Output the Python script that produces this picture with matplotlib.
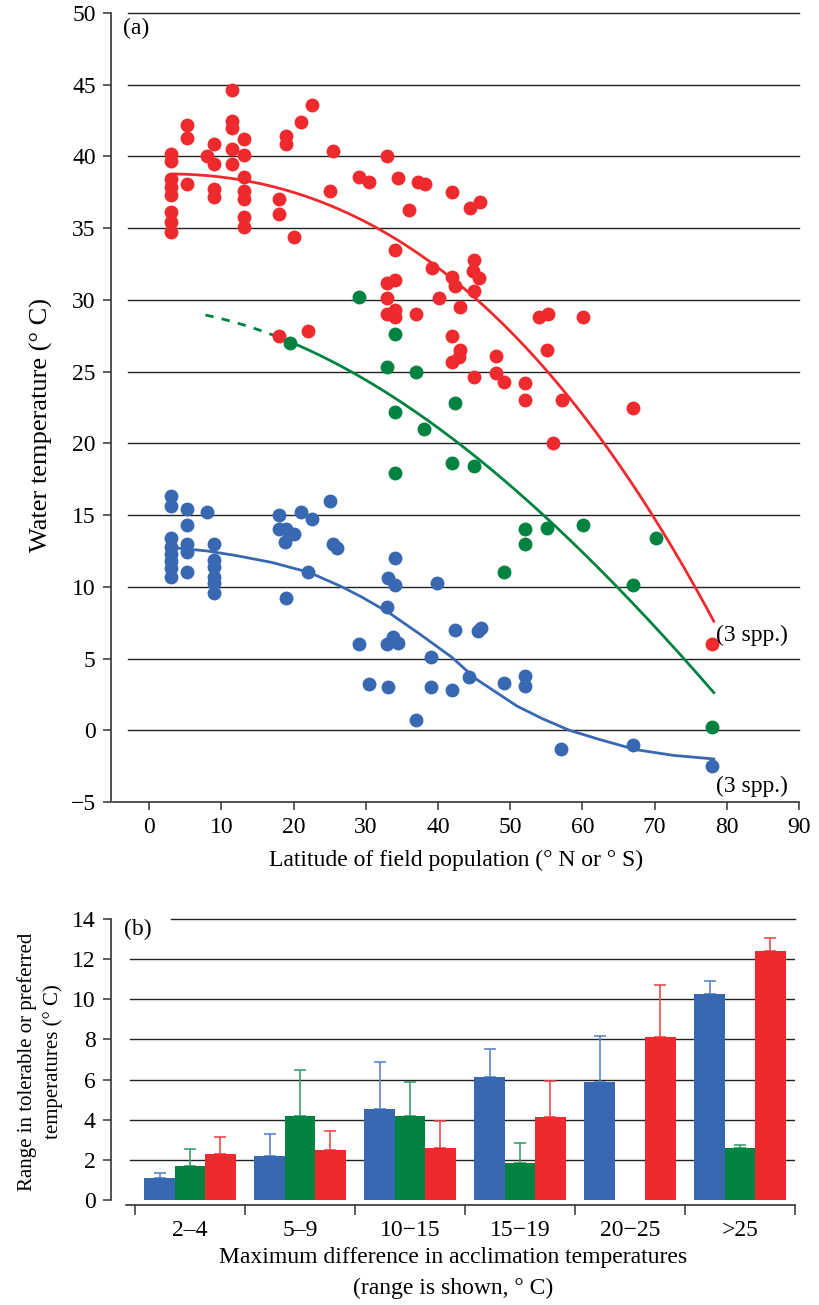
import numpy as np
import matplotlib
matplotlib.use("Agg")
import matplotlib.pyplot as plt

plt.rcParams["font.family"] = ["Liberation Serif", "DejaVu Serif"]
plt.rcParams["font.size"] = 17

RED = "#ee2a2f"
GREEN = "#008241"
BLUE = "#3868b2"
RED_E = "#f04a4e"
GREEN_E = "#3b9e6a"
BLUE_E = "#5d86c5"
AX = "#333333"

# ---- panel (a) data: latitude vs water temperature ----
red_lat = [3, 3, 3, 3, 3, 3, 3, 3, 5.3, 5.3, 5.3, 8, 9, 9, 9, 9,
           11.5, 11.5, 11.5, 11.5, 11.5, 13.2, 13.2, 13.2, 13.2, 13.2, 13.2, 13.2,
           18, 18, 19, 19, 20, 21, 22.5, 25, 25.5, 29,
           33, 30.5, 34.5, 37.2, 38.2, 36, 42, 44.4, 45.8, 34, 39.2, 45, 44.8,
           45.7, 42, 42.3, 45, 33, 34, 33, 40.1, 43, 33, 34, 34, 37, 54, 55.2,
           60.1, 42, 43, 42.9, 41.9, 48, 55.1, 45, 48, 49.2, 52, 52, 57.2,
           18, 22, 56, 67, 78]
red_temp = [40.2, 39.7, 38.4, 37.9, 37.3, 36.1, 35.4, 34.7, 42.2, 41.3, 38.1, 40.0,
            40.9, 39.5, 37.7, 37.2, 44.6, 42.5, 42.0, 40.5, 39.5,
            41.2, 40.1, 38.6, 37.6, 37.0, 35.8, 35.1,
            37.0, 36.0, 41.4, 40.9, 34.4, 42.4, 43.6, 37.6, 40.4, 38.6,
            40.0, 38.2, 38.5, 38.2, 38.1, 36.3, 37.5, 36.4, 36.8, 33.5, 32.2, 32.8, 32.0,
            31.5, 31.6, 31.0, 30.6, 31.2, 31.4, 30.1, 30.1, 29.5, 29.0, 29.3, 28.8, 29.0, 28.8, 29.0,
            28.8, 27.5, 26.5, 26.0, 25.7, 26.1, 26.5, 24.6, 24.9, 24.3, 24.2, 23.0, 23.0,
            27.5, 27.8, 20.0, 22.5, 6.0]

green_lat = [29, 19.5, 34, 33, 37, 34, 42.4, 38, 34, 42, 45, 52, 52, 55.1, 60.1,
             70.2, 49.1, 67, 78]
green_temp = [30.2, 27.0, 27.6, 25.3, 25.0, 22.2, 22.8, 21.0, 17.9, 18.6, 18.4,
              14.0, 13.0, 14.1, 14.3, 13.4, 11.0, 10.1, 0.2]

blue_lat = [3, 3, 3, 3, 3, 3, 3, 3, 5.3, 5.3, 5.3, 5.3, 5.3, 8, 9, 9, 9, 9, 9, 9,
            18, 18, 19, 20, 18.8, 21, 22.6, 19, 22, 25, 25.5, 26,
            34, 33.1, 34.1, 39.9, 33, 42.4, 45.5, 45.9, 29, 33, 33.8, 34.5, 39.1,
            44.3, 52, 52, 49.1, 30.4, 33.1, 39.1, 42, 37, 57, 67, 78]
blue_temp = [16.3, 15.6, 13.4, 12.8, 12.3, 11.8, 11.3, 10.7, 15.4, 14.3, 13.0, 12.4, 11.0,
             15.2, 13.0, 11.9, 11.4, 10.7, 10.3, 9.6,
             15.0, 14.0, 14.0, 13.7, 13.1, 15.2, 14.7, 9.2, 11.0, 16.0, 13.0, 12.7,
             12.0, 10.6, 10.1, 10.3, 8.6, 7.0, 6.9, 7.1, 6.0, 6.0, 6.5, 6.1, 5.1,
             3.7, 3.8, 3.1, 3.3, 3.2, 3.0, 3.0, 2.8, 0.7, -1.3, -1.0, -2.5]

# trend curves, points
red_fit_x = [3.5, 13.3, 20.9, 26.7, 31.8, 35.7, 40.3, 46.1, 54.9, 59.7, 62.7, 69.8, 73.3, 75.7, 78.2]
red_fit_y = [38.85, 38.2, 37.2, 36.4, 35.1, 33.7, 31.9, 30.0, 25.1, 22.2, 20.1, 15.0, 11.9, 10.0, 7.6]
green_fit_x = [7.8, 12.8, 17.9, 19.5, 27.8, 39.0, 45.8, 55.4, 64.6, 73.9, 78.2]
green_fit_y = [29.0, 28.3, 27.3, 27.0, 25.2, 21.6, 18.5, 14.9, 10.0, 5.0, 2.7]
green_dash_end = 17.9
blue_fit_x = [4.0, 8.0, 11.8, 17.0, 22.2, 26.7, 29.4, 33.2, 37.5, 41.9, 45.2, 50.9, 54.5,
              58.2, 62.5, 67.4, 72.6, 78.2]
blue_fit_y = [12.7, 12.5, 12.2, 11.7, 11.0, 10.0, 9.3, 8.2, 6.7, 5.1, 3.6, 1.7, 0.8,
              0.0, -0.66, -1.35, -1.75, -2.0]

# ---- panel (b) data ----
groups = ["2–4", "5–9", "10−15", "15−19", "20−25", ">25"]
blue_bar = [1.08, 2.19, 4.55, 6.13, 5.88, 10.25]
blue_err = [0.28, 1.09, 2.34, 1.39, 2.28, 0.68]
green_bar = [1.71, 4.19, 4.19, 1.84, np.nan, 2.57]
green_err = [0.81, 2.30, 1.67, 0.99, np.nan, 0.15]
red_bar = [2.28, 2.48, 2.58, 4.11, 8.13, 12.42]
red_err = [0.87, 0.96, 1.36, 1.80, 2.60, 0.61]


def smooth(xs, ys, deg):
    c = np.polyfit(xs, ys, deg)
    xx = np.linspace(min(xs), max(xs), 200)
    return xx, np.polyval(c, xx)


fig = plt.figure(figsize=(8.19, 13.05), dpi=100)

# ================= panel (a) =================
ax = fig.add_axes([113 / 819, 1 - 802 / 1305, 686 / 819, 789 / 1305])
ax.set_xlim(-5, 90)
ax.set_ylim(-5, 50)
for yv in range(0, 51, 5):
    ax.plot([-2.9, 90], [yv, yv], color="#222222", lw=1.0, zorder=1, clip_on=False)

rx, ry = smooth(red_fit_x, red_fit_y, 3)
ax.plot(rx, ry, color=RED, lw=2, zorder=2)
gx, gy = smooth(green_fit_x, green_fit_y, 3)
dash = gx <= green_dash_end
ax.plot(gx[dash], gy[dash], color=GREEN, lw=2, ls=(0, (3, 3)), zorder=2)
ax.plot(gx[~dash], gy[~dash], color=GREEN, lw=2, zorder=2)
ax.plot(blue_fit_x, blue_fit_y, color=BLUE, lw=2, zorder=2, solid_joinstyle="round")

ax.scatter(red_lat, red_temp, s=100, color=RED, lw=0, zorder=3, clip_on=False)
ax.scatter(green_lat, green_temp, s=100, color=GREEN, lw=0, zorder=3, clip_on=False)
ax.scatter(blue_lat, blue_temp, s=100, color=BLUE, lw=0, zorder=3, clip_on=False)

ax.text(78.5, 6.6, "(3 spp.)", va="center", ha="left")
ax.text(78.5, -3.9, "(3 spp.)", va="center", ha="left")
ax.text(-3.6, 48.9, "(a)", va="center", ha="left")

ax.set_xticks(range(0, 91, 10))
ax.set_yticks(range(-5, 51, 5))
for s in ["top", "right"]:
    ax.spines[s].set_visible(False)
ax.spines["left"].set_position(("outward", 1.5))
for s in ["left", "bottom"]:
    ax.spines[s].set_color(AX)
    ax.spines[s].set_linewidth(1.2)
ax.tick_params(direction="out", length=6, width=1.1, color=AX, labelsize=17, pad=5)
ax.set_xlabel("Latitude of field population (° N or ° S)", labelpad=8)
ax.set_ylabel("Water temperature (° C)", fontsize=19)
ax.yaxis.set_label_coords(-0.088, 0.478)

# ================= panel (b) =================
bx = fig.add_axes([110.7 / 819, 1 - 1205 / 1305, 684.3 / 819, 286 / 1305])
bx.set_xlim(-0.721, 5.5)
bx.set_ylim(-0.25, 14)
for yv in range(2, 13, 2):
    bx.plot([-0.545, 5.5], [yv, yv], color="#222222", lw=1.0, zorder=1)
bx.plot([-0.173, 5.5], [14, 14], color="#222222", lw=1.0, zorder=1, clip_on=False)

x = np.arange(len(groups))
w = 0.277
series = [(blue_bar, blue_err, BLUE, BLUE_E, -w),
          (green_bar, green_err, GREEN, GREEN_E, 0),
          (red_bar, red_err, RED, RED_E, w)]
for vals, errs, col, ecol, off in series:
    bx.bar(x + off, vals, width=w, color=col, lw=0, zorder=2)
    lower = np.zeros(len(vals))
    bx.errorbar(x + off, vals, yerr=[lower, errs], fmt="none", ecolor=ecol,
                elinewidth=1.2, capsize=4.5, capthick=1.2, zorder=1.5)

bx.text(-0.6, 13.5, "(b)", va="center", ha="left")

bx.set_xticks(np.arange(-0.5, 5.6, 1))
bx.set_xticklabels([])
bx.set_xticks(x, minor=True)
bx.set_xticklabels(groups, minor=True)
bx.tick_params(axis="x", which="minor", length=0, labelsize=17, pad=11)
bx.tick_params(axis="x", which="major", direction="out", length=7, width=1.1, color=AX)
bx.set_yticks(range(0, 15, 2))
bx.tick_params(axis="y", direction="out", length=6, width=1.1, color=AX, labelsize=17, pad=5)
for s in ["top", "right"]:
    bx.spines[s].set_visible(False)
bx.spines["left"].set_bounds(0, 14)
bx.spines["bottom"].set_bounds(-0.582, 5.5)
for s in ["left", "bottom"]:
    bx.spines[s].set_color(AX)
    bx.spines[s].set_linewidth(1.2)
bx.set_xlabel("Maximum difference in acclimation temperatures\n(range is shown, ° C)",
              labelpad=4, linespacing=1.6)
bx.set_ylabel("Range in tolerable or preferred\ntemperatures (° C)", fontsize=15,
              labelpad=6, linespacing=1.4)

fig.savefig("out.png", dpi=100)
